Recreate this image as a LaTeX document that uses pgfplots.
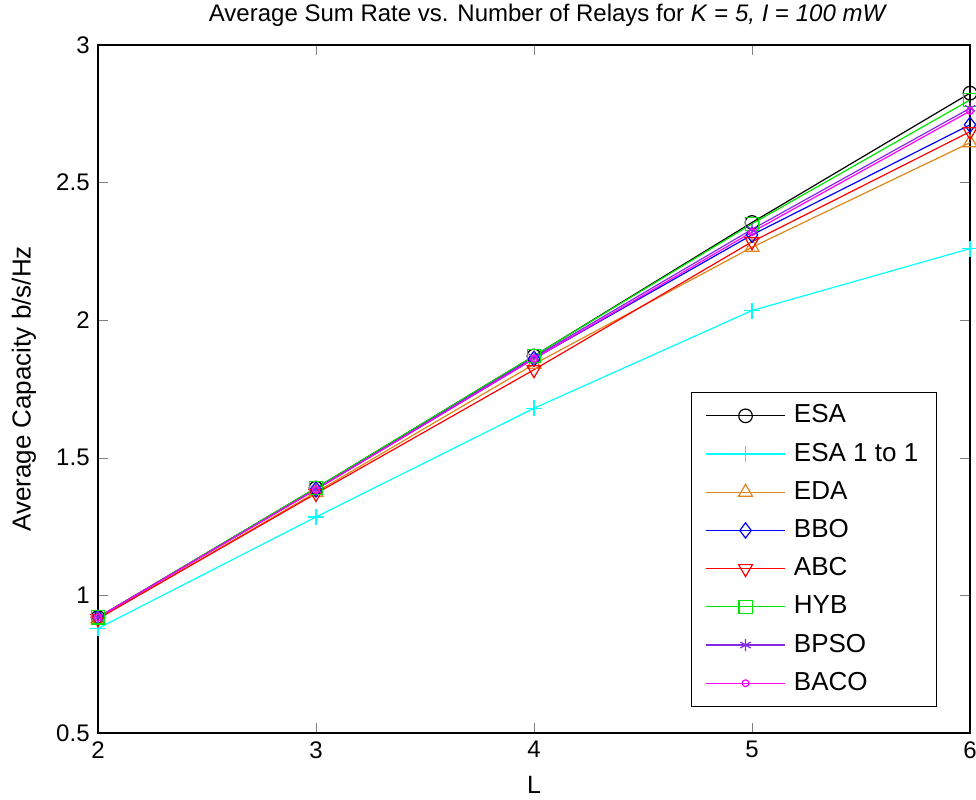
\documentclass[border=0pt]{standalone}
\usepackage{fontspec}
\setmainfont{Liberation Sans}
\usepackage{pgfplots}
\pgfplotsset{compat=1.18}
\definecolor{edaor}{RGB}{224,134,26}
\definecolor{bpso}{RGB}{130,40,230}
\definecolor{mcyan}{RGB}{0,255,255}
\definecolor{mgreen}{RGB}{0,230,0}
\definecolor{mmag}{RGB}{255,0,255}
\definecolor{mblue}{RGB}{0,0,255}
\definecolor{mred}{RGB}{255,0,0}
\begin{document}
\fontsize{12}{14}\selectfont
\begin{tikzpicture}
\begin{axis}[
  scale only axis, width=436pt, height=344pt,
  xmin=2, xmax=6, ymin=0.5, ymax=3,
  xtick={2,3,4,5,6}, ytick={0.5,1,1.5,2,2.5,3},
  yticklabels={0.5,1,1.5,2,2.5,3},
  tick align=inside, tick pos=both,
  major tick length=5pt,
  /pgf/number format/assume math mode=true,
  ticklabel style={font=\fontsize{12}{14}\selectfont},
  xlabel={L}, ylabel={Average Capacity b/s/Hz},
  every axis x label/.style={at={(rel axis cs:0.5,0)}, anchor=center, yshift=-26pt, font=\fontsize{12.5}{14}\selectfont},
  every axis y label/.style={at={(rel axis cs:0,0.5)}, rotate=90, anchor=center, yshift=37pt, font=\fontsize{13}{15}\selectfont},
  title={Average Sum Rate vs. Number of Relays for \textit{K} = \textit{5, I} = \textit{100 mW}},
  every axis title/.style={at={(rel axis cs:0.5,1)}, anchor=center, yshift=15pt, xshift=7pt, font=\fontsize{12}{14}\selectfont},
  axis line style={line width=0.6pt},
  every axis plot/.append style={line width=0.6pt, mark options={solid}},
  legend style={at={(rel axis cs:0.962,0.038)}, anchor=south east, line width=0.6pt,
    font=\fontsize{13}{15}\selectfont, row sep=3.1pt, inner xsep=7pt, inner ysep=3.5pt,
    nodes={text height=9.5pt, text depth=2.5pt}},
  legend cell align=left,
  legend image code/.code={\draw[#1, mark=none] (0cm,0cm) -- (1.4cm,0cm); \path[#1, draw=none] plot coordinates {(0.7cm,0cm)}; \path (1.4cm+2pt,0cm);},
]
\addplot[black, mark=o, mark size=3.4pt] coordinates {(2,0.92) (3,1.39) (4,1.87) (5,2.355) (6,2.825)};
\addlegendentry{ESA}
\addplot[mcyan, mark=+, mark size=4pt] coordinates {(2,0.88) (3,1.285) (4,1.68) (5,2.035) (6,2.26)};
\addlegendentry{ESA 1 to 1}
\addplot[edaor, mark=triangle, mark size=4pt] coordinates {(2,0.915) (3,1.375) (4,1.84) (5,2.265) (6,2.645)};
\addlegendentry{EDA}
\addplot[mblue, mark=diamond, mark size=3.8pt] coordinates {(2,0.92) (3,1.385) (4,1.86) (5,2.31) (6,2.71)};
\addlegendentry{BBO}
\addplot[mred, mark=triangle, mark options={rotate=180}, mark size=4pt] coordinates {(2,0.915) (3,1.37) (4,1.82) (5,2.285) (6,2.685)};
\addlegendentry{ABC}
\addplot[mgreen, mark=square, mark size=3.3pt] coordinates {(2,0.92) (3,1.39) (4,1.87) (5,2.35) (6,2.80)};
\addlegendentry{HYB}
\addplot[bpso, mark=asterisk, mark size=3pt] coordinates {(2,0.92) (3,1.385) (4,1.865) (5,2.33) (6,2.77)};
\addlegendentry{BPSO}
\addplot[mmag, mark=o, mark size=1.7pt] coordinates {(2,0.92) (3,1.385) (4,1.86) (5,2.32) (6,2.76)};
\addlegendentry{BACO}
\end{axis}
\pgfresetboundingbox
\path (current axis.south west) ++(-49pt,-33.5pt) rectangle ([xshift=3pt,yshift=22.5pt]current axis.north east);
\end{tikzpicture}
\end{document}
